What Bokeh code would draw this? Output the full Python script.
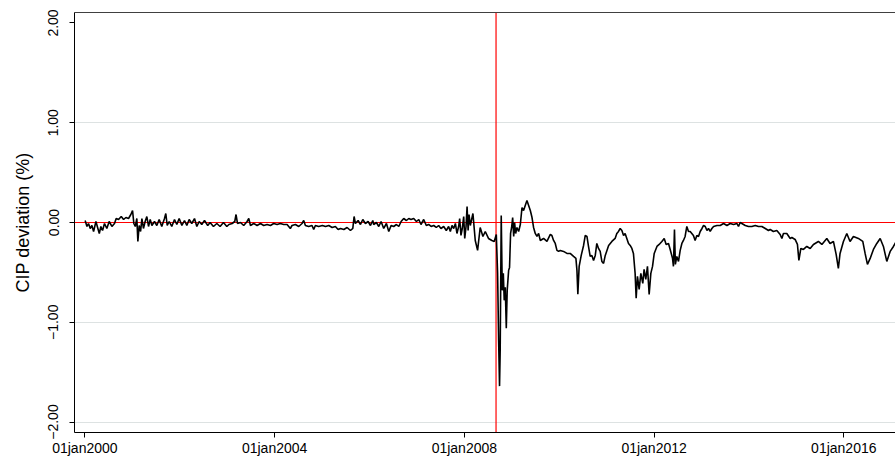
import pandas as pd
from bokeh.plotting import figure
from bokeh.models import (FixedTicker, CustomJSTickFormatter, Span, LinearAxis,
                          Range1d, ColumnDataSource)
from bokeh.embed import file_html
from bokeh.resources import INLINE

# ---------------- data ----------------
dates = [
    "2000-01-03", "2000-01-17", "2000-01-29", "2000-02-11", "2000-02-24", "2000-03-08",
    "2000-03-26", "2000-04-10", "2000-04-21", "2000-05-03", "2000-05-16", "2000-05-31",
    "2000-06-18", "2000-07-06", "2000-07-27", "2000-08-16", "2000-08-29", "2000-09-16",
    "2000-10-07", "2000-10-25", "2000-11-12", "2000-12-02", "2000-12-20",
    "2001-01-02", "2001-01-12", "2001-01-23", "2001-02-04", "2001-02-12", "2001-02-22",
    "2001-03-05", "2001-03-15", "2001-03-27", "2001-04-09", "2001-04-22", "2001-05-05",
    "2001-05-18", "2001-05-31", "2001-06-20", "2001-07-08", "2001-07-26", "2001-08-15",
    "2001-09-05", "2001-09-15", "2001-09-26", "2001-10-11", "2001-10-31", "2001-11-21",
    "2001-12-09", "2001-12-27",
    "2002-01-17", "2002-02-06", "2002-02-24", "2002-03-14", "2002-04-03", "2002-04-24",
    "2002-05-12", "2002-05-30", "2002-06-19", "2002-07-10", "2002-08-04", "2002-08-22",
    "2002-09-17", "2002-10-13", "2002-11-07", "2002-12-03", "2002-12-29",
    "2003-01-14", "2003-02-08", "2003-02-28", "2003-03-10", "2003-03-21", "2003-04-13",
    "2003-05-08", "2003-06-03", "2003-06-16", "2003-06-29", "2003-07-24", "2003-08-19",
    "2003-09-14", "2003-10-09", "2003-11-04", "2003-11-30", "2003-12-25",
    "2004-01-20", "2004-02-14", "2004-03-11", "2004-04-06", "2004-05-01", "2004-05-14",
    "2004-06-09", "2004-07-05", "2004-07-30", "2004-08-12", "2004-08-25", "2004-09-19",
    "2004-10-15", "2004-10-28", "2004-11-10", "2004-12-05",
    "2005-01-03", "2005-01-27", "2005-02-21", "2005-03-19", "2005-04-13", "2005-05-04",
    "2005-05-22", "2005-06-17", "2005-07-12", "2005-08-07", "2005-08-25", "2005-09-04",
    "2005-09-14", "2005-10-05", "2005-10-23", "2005-11-10", "2005-11-30", "2005-12-21",
    "2006-01-08", "2006-01-26", "2006-02-02", "2006-02-23", "2006-03-13", "2006-03-31",
    "2006-04-20", "2006-05-11", "2006-05-29", "2006-06-16", "2006-07-06", "2006-07-27",
    "2006-08-14", "2006-09-01", "2006-09-21", "2006-10-12", "2006-10-30", "2006-11-16",
    "2006-12-07", "2006-12-28",
    "2007-01-15", "2007-02-01", "2007-02-22", "2007-03-14", "2007-04-01", "2007-04-20",
    "2007-05-10", "2007-05-30", "2007-06-17", "2007-07-05", "2007-07-26", "2007-08-15",
    "2007-09-02", "2007-09-15", "2007-09-28", "2007-10-11", "2007-10-24", "2007-11-05",
    "2007-11-18", "2007-11-26", "2007-12-06", "2007-12-16", "2007-12-27",
    "2008-01-04", "2008-01-14", "2008-01-22", "2008-01-30", "2008-02-06", "2008-02-16",
    "2008-03-07", "2008-03-25", "2008-04-12", "2008-05-02", "2008-05-23", "2008-06-10",
    "2008-07-05", "2008-07-31", "2008-08-18", "2008-09-03", "2008-09-13", "2008-09-21",
    "2008-09-28", "2008-10-03", "2008-10-11", "2008-10-19", "2008-10-27", "2008-11-03",
    "2008-11-11", "2008-11-19", "2008-11-26", "2008-12-07", "2008-12-14", "2008-12-22",
    "2008-12-30",
    "2009-01-07", "2009-01-15", "2009-01-22", "2009-01-30", "2009-02-09", "2009-02-22",
    "2009-03-07", "2009-03-20", "2009-04-01", "2009-04-14", "2009-04-27", "2009-05-10",
    "2009-05-23", "2009-06-05", "2009-06-17", "2009-06-30", "2009-07-13", "2009-07-26",
    "2009-08-08", "2009-09-02", "2009-09-28", "2009-10-24", "2009-11-05", "2009-11-18",
    "2009-12-01", "2009-12-14", "2009-12-27",
    "2010-01-09", "2010-02-03", "2010-03-01", "2010-03-26", "2010-04-21", "2010-05-09",
    "2010-05-17", "2010-05-24", "2010-06-03", "2010-06-19", "2010-07-07", "2010-07-20",
    "2010-08-02", "2010-08-14", "2010-08-27", "2010-09-09", "2010-09-22", "2010-10-05",
    "2010-10-17", "2010-10-30", "2010-11-12", "2010-11-25", "2010-12-08", "2010-12-21",
    "2011-01-03", "2011-01-16", "2011-02-10", "2011-03-07", "2011-03-20", "2011-04-02",
    "2011-04-15", "2011-04-28", "2011-05-11", "2011-05-23", "2011-06-05", "2011-06-18",
    "2011-07-01", "2011-07-14", "2011-07-26", "2011-08-08", "2011-08-16", "2011-08-26",
    "2011-09-08", "2011-09-21", "2011-10-06", "2011-10-16", "2011-10-29", "2011-11-11",
    "2011-11-24", "2011-12-07", "2011-12-20",
    "2012-01-02", "2012-01-23", "2012-02-09", "2012-03-01", "2012-03-19", "2012-04-03",
    "2012-04-21", "2012-05-04", "2012-05-22", "2012-05-29", "2012-06-06", "2012-06-13",
    "2012-06-24", "2012-07-07", "2012-07-20", "2012-08-02", "2012-08-14", "2012-08-27",
    "2012-09-09", "2012-09-22", "2012-10-05", "2012-10-30", "2012-11-12", "2012-11-25",
    "2012-12-08", "2012-12-21",
    "2013-01-04", "2013-01-16", "2013-01-29", "2013-02-11", "2013-02-23", "2013-03-08",
    "2013-03-21", "2013-04-03", "2013-04-29", "2013-05-24", "2013-06-19", "2013-07-15",
    "2013-08-09", "2013-09-04", "2013-09-30", "2013-10-12", "2013-10-25", "2013-11-07",
    "2013-12-03", "2013-12-28",
    "2014-01-23", "2014-02-18", "2014-03-15", "2014-04-10", "2014-05-06", "2014-05-31",
    "2014-06-13", "2014-07-08", "2014-08-03", "2014-08-29", "2014-09-11", "2014-09-23",
    "2014-10-19", "2014-11-14", "2014-11-27", "2014-12-22",
    "2015-01-09", "2015-01-20", "2015-02-04", "2015-02-24", "2015-03-22", "2015-04-17",
    "2015-05-12", "2015-06-19", "2015-07-16", "2015-08-23", "2015-09-17", "2015-10-13",
    "2015-11-03", "2015-11-20", "2015-12-03", "2015-12-29",
    "2016-01-24", "2016-02-18", "2016-03-15", "2016-04-22", "2016-05-26", "2016-06-13",
    "2016-07-01", "2016-07-22", "2016-08-16", "2016-09-11", "2016-10-07", "2016-11-01",
    "2016-11-27", "2016-12-23", "2017-01-17", "2017-02-07",
]

cip = [
    0.02, -0.04, -0.01, -0.06, -0.03, -0.09,
    0.01, -0.06, -0.11, -0.04, -0.08, -0.01,
    -0.06, 0.01, -0.04, -0.01, 0.04, 0.03,
    0.06, 0.03, 0.05, 0.04, 0.08,
    0.12, -0.01, -0.04, 0.04, -0.19, -0.03,
    -0.09, 0.04, -0.06, 0.01, 0.06, -0.04,
    0.03, -0.03, 0.01, -0.03, 0.03, -0.04,
    0.04, 0.09, -0.03, 0.01, -0.04, 0.03,
    -0.02, 0.04,
    -0.03, 0.02, -0.03, 0.03, -0.01, 0.04,
    -0.04, 0.01, -0.02, 0.02, -0.03, 0.00,
    -0.04, -0.01, -0.04, 0.00, -0.04,
    -0.02, -0.01, 0.01, 0.08, -0.01, 0.00,
    -0.03, 0.01, 0.04, -0.03, -0.01, -0.03,
    -0.01, -0.03, -0.02, -0.03, -0.01,
    -0.02, -0.01, -0.02, -0.02, -0.06, -0.03,
    -0.02, -0.04, -0.01, 0.02, -0.03, -0.04,
    -0.03, -0.07, -0.03, -0.04,
    -0.03, -0.04, -0.03, -0.05, -0.04, -0.07,
    -0.06, -0.07, -0.05, -0.08, -0.06, 0.06,
    -0.01, 0.02, -0.02, 0.03, -0.01, 0.01,
    -0.03, 0.02, -0.02, 0.00, -0.04, 0.01,
    -0.06, -0.01, -0.09, -0.03, -0.04, -0.02,
    -0.04, 0.01, 0.04, 0.02, 0.04, 0.03,
    0.04, 0.01,
    0.03, -0.02, 0.03, -0.03, -0.02, -0.04,
    -0.03, -0.05, -0.03, -0.06, -0.04, -0.08,
    -0.04, -0.09, -0.03, -0.06, -0.01, -0.11,
    -0.04, 0.04, -0.13, -0.06, 0.06,
    -0.16, -0.04, 0.16, -0.08, 0.08, -0.03,
    0.09, -0.18, -0.28, -0.05, -0.14, -0.09,
    -0.16, -0.18, -0.19, -0.12, -0.51, -1.18,
    -1.64, -1.28, 0.07, -0.68, -0.51, -0.78,
    -0.65, -1.06, -0.68, -0.48, -0.45, -0.11,
    -0.05,
    0.05, -0.14, 0.00, -0.11, -0.05, -0.09,
    -0.02, 0.15, 0.12, 0.17, 0.22, 0.17,
    0.12, 0.05, -0.05, -0.11, -0.14, -0.11,
    -0.18, -0.16, -0.19, -0.12, -0.13, -0.18,
    -0.21, -0.28, -0.29,
    -0.28, -0.29, -0.31, -0.31, -0.34, -0.36,
    -0.48, -0.72, -0.44, -0.33, -0.23, -0.13,
    -0.14, -0.24, -0.34, -0.33, -0.38, -0.33,
    -0.21, -0.26, -0.29, -0.39, -0.41, -0.33,
    -0.28, -0.23, -0.19, -0.16, -0.11, -0.09,
    -0.06, -0.08, -0.13, -0.11, -0.16, -0.21,
    -0.23, -0.26, -0.31, -0.51, -0.76, -0.54,
    -0.67, -0.51, -0.61, -0.47, -0.57, -0.44,
    -0.72, -0.51, -0.44,
    -0.31, -0.24, -0.22, -0.19, -0.16, -0.22,
    -0.21, -0.27, -0.36, -0.44, -0.07, -0.42,
    -0.34, -0.39, -0.28, -0.21, -0.18, -0.14,
    -0.04, -0.09, -0.09, -0.13, -0.18, -0.13,
    -0.14, -0.09,
    -0.06, -0.03, -0.04, -0.08, -0.06, -0.09,
    -0.06, -0.04, -0.03, -0.03, -0.01, -0.03,
    -0.01, -0.02, -0.01, -0.04, 0.00, -0.01,
    -0.03, -0.04,
    -0.04, -0.03, -0.04, -0.04, -0.06, -0.08,
    -0.07, -0.09, -0.08, -0.12, -0.16, -0.11,
    -0.11, -0.16, -0.15, -0.17,
    -0.22, -0.38, -0.26, -0.27, -0.24, -0.26,
    -0.22, -0.19, -0.22, -0.16, -0.21, -0.19,
    -0.32, -0.46, -0.31, -0.19,
    -0.11, -0.19, -0.14, -0.16, -0.19, -0.31,
    -0.42, -0.36, -0.27, -0.21, -0.16, -0.24,
    -0.39, -0.29, -0.24, -0.19,
]

x_ticks = ["2000-01-01", "2004-01-01", "2008-01-01", "2012-01-01", "2016-01-01"]
x_tick_labels = ["01jan2000", "01jan2004", "01jan2008", "01jan2012", "01jan2016"]
y_ticks = [-2, -1, 0, 1, 2]
y_tick_labels = ["\u22122.00", "\u22121.00", "0.00", "1.00", "2.00"]
y_grid_ticks = [-2, -1, 0, 1]
event_date = "2008-09-01"
zero_level = 0
y_title = "CIP deviation (%)"

# ---------------- figure ----------------
def ms(d):
    return int(pd.Timestamp(d).value // 10**6)

FONT = "Liberation Sans"
JS = "const i = tk.indexOf(tick); return i < 0 ? '' : lb[i];"

p = figure(width=895, height=458, x_axis_type="datetime",
           output_backend="svg", toolbar_location=None,
           x_range=Range1d(ms("1999-10-13"), ms("2017-02-02")),
           y_range=Range1d(-2.105, 2.105),
           min_border_left=74, min_border_right=0,
           min_border_top=12, min_border_bottom=25)
p.background_fill_color = "white"
p.border_fill_color = "white"
p.outline_line_color = None

# grid
p.xgrid.visible = False
p.ygrid.ticker = FixedTicker(ticks=y_grid_ticks)
p.ygrid.grid_line_color = "#dde2e2"
p.ygrid.grid_line_width = 1

# x axis
xt = [ms(t) for t in x_ticks]
xa = p.xaxis[0]
xa.ticker = FixedTicker(ticks=xt)
xa.formatter = CustomJSTickFormatter(args=dict(tk=xt, lb=x_tick_labels), code=JS)
xa.major_label_text_font = FONT
xa.major_label_text_font_size = "14px"
xa.major_label_text_color = "black"
xa.major_label_standoff = 2
xa.major_tick_out = 5
xa.major_tick_in = 0
xa.minor_tick_out = 0
xa.minor_tick_in = 0
xa.axis_line_color = "black"
xa.major_tick_line_color = "black"

# y axis
ya = p.yaxis[0]
ya.ticker = FixedTicker(ticks=y_ticks)
ya.formatter = CustomJSTickFormatter(args=dict(tk=y_ticks, lb=y_tick_labels), code=JS)
ya.major_label_orientation = "vertical"
ya.major_label_text_font = FONT
ya.major_label_text_font_size = "14px"
ya.major_label_text_color = "black"
ya.major_label_standoff = 11
ya.major_tick_out = 5
ya.major_tick_in = 0
ya.minor_tick_out = 0
ya.minor_tick_in = 0
ya.axis_line_color = "black"
ya.major_tick_line_color = "black"
ya.axis_label = y_title
ya.axis_label_text_font = FONT
ya.axis_label_text_font_size = "18px"
ya.axis_label_text_font_style = "normal"
ya.axis_label_text_color = "black"
ya.axis_label_standoff = 13

# top border line
top = LinearAxis(ticker=FixedTicker(ticks=[]), major_tick_out=0, major_tick_in=0,
                 minor_tick_out=0, minor_tick_in=0, major_label_standoff=0,
                 major_label_text_font_size="0px", axis_line_color="#404040")
p.add_layout(top, "above")

# reference lines (under the data)
p.add_layout(Span(location=zero_level, dimension="width", line_color="#ff0000",
                  line_width=1.2, level="underlay"))
p.add_layout(Span(location=ms(event_date), dimension="height", line_color="#ff0000",
                  line_width=1.2, level="underlay"))

src = ColumnDataSource(dict(date=pd.to_datetime(dates), cip=cip))
p.line("date", "cip", source=src, line_color="black", line_width=1.6)

open("out.html", "w").write(file_html(p, INLINE))
